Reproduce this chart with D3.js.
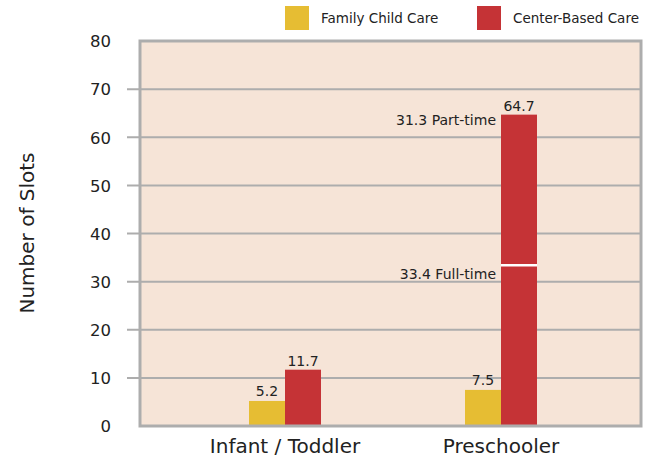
<!DOCTYPE html>
<html><head><meta charset="utf-8">
<script src="https://cdn.jsdelivr.net/npm/d3@7"></script>
<style>
body{margin:0;background:#fff;}
text{font-family:"DejaVu Sans",sans-serif;fill:#222;}
</style></head><body>
<svg id="c" width="651" height="465"></svg>
<script>
const categories = ["Infant / Toddler", "Preschooler"];
const seriesNames = ["Family Child Care", "Center-Based Care"];
const familyValues = [5.2, 7.5];
const centerValues = [11.7, 64.7];
const preschoolSplit = [{label: "Full-time", value: 33.4}, {label: "Part-time", value: 31.3}];
const yTicks = [0, 10, 20, 30, 40, 50, 60, 70, 80];
const colors = ["#e6bd33", "#c53336"];

const svg = d3.select("#c");
const L = 140, R = 641, T = 41, B = 426;
const y = d3.scaleLinear().domain([0, 80]).range([B, T]);
const x = d3.scaleBand().domain(categories).range([177, 609]).padding(0);
const bw = 36;

// background
svg.append("rect").attr("x", L).attr("y", T).attr("width", R - L).attr("height", B - T).attr("fill", "#f6e4d7");

// gridlines + ticks
const gridVals = yTicks.filter(d => d > 0 && d < 80);
svg.append("g").selectAll("line").data(gridVals).join("line")
  .attr("x1", L - 13).attr("x2", R).attr("y1", d => y(d)).attr("y2", d => y(d))
  .attr("stroke", "#adadad").attr("stroke-width", 2);

// y axis labels
const yAxis = d3.axisLeft(y).tickValues(yTicks).tickSize(0).tickPadding(0);
const ga = svg.append("g").attr("transform", `translate(111,0)`).call(yAxis);
ga.select(".domain").remove();
ga.selectAll("text").style("font-size", "16.5px").style("font-family", "DejaVu Sans").attr("fill", "#222").attr("dy", "0.35em");

// bars
const groups = categories.map((c, i) => ({c, f: familyValues[i], r: centerValues[i]}));
svg.append("g").selectAll("rect").data(groups).join("rect")
  .attr("x", d => x(d.c) + x.bandwidth() / 2 - bw).attr("width", bw)
  .attr("y", d => y(d.f)).attr("height", d => y(0) - y(d.f)).attr("fill", colors[0]);
svg.append("g").selectAll("rect").data(groups).join("rect")
  .attr("x", d => x(d.c) + x.bandwidth() / 2).attr("width", bw)
  .attr("y", d => y(d.r)).attr("height", d => y(0) - y(d.r)).attr("fill", colors[1]);

// split line in preschool center bar
const pc = x("Preschooler") + x.bandwidth() / 2;
svg.append("line").attr("x1", pc).attr("x2", pc + bw)
  .attr("y1", y(preschoolSplit[0].value)).attr("y2", y(preschoolSplit[0].value))
  .attr("stroke", "#fff").attr("stroke-width", 2.5);

// value labels
svg.append("g").selectAll("text").data(groups).join("text")
  .attr("x", d => x(d.c) + x.bandwidth() / 2 - bw / 2).attr("y", d => y(d.f) - 5)
  .attr("text-anchor", "middle").style("font-size", "14px").text(d => d.f);
svg.append("g").selectAll("text").data(groups).join("text")
  .attr("x", d => x(d.c) + x.bandwidth() / 2 + bw / 2).attr("y", d => y(d.r) - 4)
  .attr("text-anchor", "middle").style("font-size", "14px").text(d => d.r);

// split labels
svg.append("text").attr("x", pc - 5).attr("y", y(preschoolSplit[0].value) + 14)
  .attr("text-anchor", "end").style("font-size", "14px")
  .text(preschoolSplit[0].value + " " + preschoolSplit[0].label);
svg.append("text").attr("x", pc - 5).attr("y", y(centerValues[1]) + 10)
  .attr("text-anchor", "end").style("font-size", "14px")
  .text(preschoolSplit[1].value + " " + preschoolSplit[1].label);

// border
svg.append("path").attr("d", `M${L},${T}V${B}H${R}V${T}Z`).attr("fill", "none")
  .attr("stroke", "#adadad").attr("stroke-width", 3);

// x axis labels
const xAxis = d3.axisBottom(x).tickSize(0).tickPadding(0);
const gx = svg.append("g").attr("transform", `translate(0,${B + 20})`).call(xAxis);
gx.select(".domain").remove();
gx.selectAll("text").style("font-size", "20px").style("font-family", "DejaVu Sans").attr("fill", "#222").attr("dy", "0.35em");

// y title
svg.append("text").attr("transform", "translate(34,233) rotate(-90)")
  .attr("text-anchor", "middle").style("font-size", "20px").text("Number of Slots");

// legend
const lx = [285, 477];
seriesNames.forEach((s, i) => {
  svg.append("rect").attr("x", lx[i]).attr("y", 6).attr("width", 24).attr("height", 24).attr("fill", colors[i]);
  svg.append("text").attr("x", lx[i] + 36).attr("y", 18).attr("dy", "0.35em")
    .style("font-size", "13.5px").text(s);
});
</script>
</body></html>
